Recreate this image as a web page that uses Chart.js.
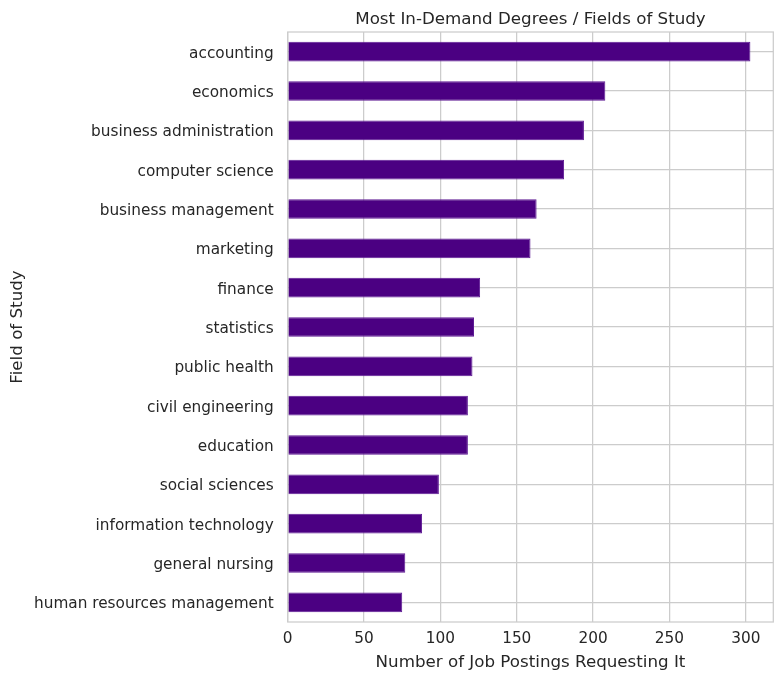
<!DOCTYPE html>
<html><head><meta charset="utf-8">
<script src="https://cdn.jsdelivr.net/npm/chart.js@4.4.1/dist/chart.umd.min.js"></script>
<style>html,body{margin:0;padding:0;background:#fff;} #wrap{width:784px;height:684px;position:relative;}</style>
</head><body><div id="wrap"><canvas id="c"></canvas></div>
<script>
const categories = [
  'accounting','economics','business administration','computer science',
  'business management','marketing','finance','statistics','public health',
  'civil engineering','education','social sciences','information technology',
  'general nursing','human resources management'
];
const counts = [303, 208, 194, 181, 163, 159, 126, 122, 121, 118, 118, 99, 88, 77, 75];
const xTicks = [0, 50, 100, 150, 200, 250, 300];
const xMax = 318;
const chartTitle = 'Most In-Demand Degrees / Fields of Study';
const xLabel = 'Number of Job Postings Requesting It';
const yLabel = 'Field of Study';

const FONT = "'DejaVu Sans', sans-serif";
const TEXT = '#262626';
const GRID = '#cccccc';
const AREA = {left: 287.7, right: 773.3, top: 32, bottom: 622};

const framePlugin = {
  id: 'frame',
  afterDatasetsDraw(chart) {
    const {ctx, chartArea: a} = chart;
    ctx.save();
    ctx.strokeStyle = GRID;
    ctx.lineWidth = 1.25;
    ctx.strokeRect(a.left, a.top, a.right - a.left, a.bottom - a.top);
    ctx.restore();
  },
  afterDraw(chart) {
    const {ctx, chartArea: a} = chart;
    ctx.save();
    ctx.fillStyle = TEXT;
    ctx.font = "16.7px " + FONT;
    ctx.textAlign = 'center';
    ctx.textBaseline = 'alphabetic';
    ctx.fillText(chartTitle, (a.left + a.right) / 2, 24);
    ctx.restore();
  }
};

new Chart(document.getElementById('c'), {
  type: 'bar',
  data: {
    labels: categories,
    datasets: [{
      data: counts,
      backgroundColor: '#4b0082',
      borderColor: '#5e1a94',
      borderWidth: 1,
      categoryPercentage: 1,
      barPercentage: 0.5
    }]
  },
  options: {
    indexAxis: 'y',
    responsive: true,
    maintainAspectRatio: false,
    animation: false,
    layout: {padding: {left: 0, top: AREA.top, right: 784 - AREA.right, bottom: 0}},
    plugins: {legend: {display: false}, tooltip: {enabled: false}, title: {display: false}},
    scales: {
      x: {
        type: 'linear',
        min: 0, max: xMax,
        afterBuildTicks(s) { s.ticks = xTicks.map(v => ({value: v})); },
        afterFit(s) { s.height = 684 - AREA.bottom; },
        grid: {color: GRID, lineWidth: 1.25, drawTicks: false},
        border: {display: false},
        ticks: {color: TEXT, font: {family: FONT, size: 15.3}, padding: 8, maxRotation: 0},
        title: {display: true, text: xLabel, color: TEXT, font: {family: FONT, size: 16.7}, padding: {top: 2, bottom: 11}}
      },
      y: {
        type: 'category',
        offset: true,
        afterFit(s) { s.width = AREA.left; },
        grid: {color: GRID, lineWidth: 1.25, drawTicks: false, offset: false},
        border: {display: false},
        ticks: {color: TEXT, font: {family: FONT, size: 15.3}, padding: 14, autoSkip: false, labelOffset: 2},
        title: {display: true, text: yLabel, color: TEXT, font: {family: FONT, size: 16.7}, padding: {top: 8, bottom: 0}}
      }
    }
  },
  plugins: [framePlugin]
});
</script>
</body></html>
